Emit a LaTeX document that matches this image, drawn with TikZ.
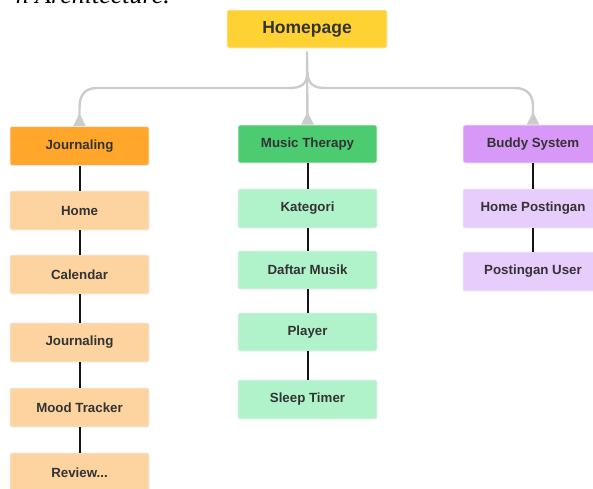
\documentclass[tikz,border=0pt]{standalone}
\usepackage{fontspec}
\setmainfont{Liberation Sans}
\newfontfamily\capfont{Liberation Serif}
\usetikzlibrary{arrows.meta}
\definecolor{txt}{HTML}{333333}
\definecolor{yel}{HTML}{FFD233}
\definecolor{orgD}{HTML}{FFA62B}
\definecolor{orgL}{HTML}{FDD3A0}
\definecolor{grnD}{HTML}{4DCB70}
\definecolor{grnL}{HTML}{B0F2C9}
\definecolor{purD}{HTML}{D898F8}
\definecolor{purL}{HTML}{E7CDFC}
\definecolor{lnk}{HTML}{CCCCCC}
\tikzset{
  box/.style={rectangle, rounded corners=2pt, minimum width=139pt, minimum height=39pt,
    inner sep=0pt, text=txt, font=\fontsize{13.3}{15}\selectfont\bfseries,
    draw=black!7, line width=0.8pt},
  toplink/.style={draw=lnk, line width=2.4pt},
  tip/.style={-{Triangle[reversed,width=12pt,length=13pt,color=lnk]}},
  chain/.style={draw=black!92, line width=2pt}
}
\begin{document}
\begin{tikzpicture}[x=1pt,y=-1pt]
\useasboundingbox (0,0) rectangle (593,488);
\clip (0,0) rectangle (593,488);
\node[anchor=base east, inner sep=0pt, font=\capfont\itshape\fontsize{26}{30}\selectfont] (cap) at (170,3.5) {n Architecture.};

\node[box, fill=yel, minimum width=160pt, minimum height=38pt, font=\fontsize{17.5}{20}\selectfont\bfseries] (home) at (307,29) {Homepage};

\node[box, fill=orgD] (jr) at (79.5,146) {Journaling};
\node[box, fill=orgL] (j1) at (79.5,210.5) {Home};
\node[box, fill=orgL] (j2) at (79.5,274.5) {Calendar};
\node[box, fill=orgL] (j3) at (79.5,342.5) {Journaling};
\node[box, fill=orgL] (j4) at (79.5,407.5) {Mood Tracker};
\node[box, fill=orgL] (j5) at (79.5,472.5) {Review...};

\node[box, fill=grnD, minimum height=38pt] (mt) at (307.5,144) {Music Therapy};
\node[box, fill=grnL] (m1) at (307.5,208.5) {Kategori};
\node[box, fill=grnL, minimum height=38pt] (m2) at (307.5,270) {Daftar Musik};
\node[box, fill=grnL, minimum height=38pt] (m3) at (307.5,332) {Player};
\node[box, fill=grnL] (m4) at (307.5,399.5) {Sleep Timer};

\node[box, fill=purD, minimum width=140pt, minimum height=38pt] (bs) at (533,144) {Buddy System};
\node[box, fill=purL, minimum width=140pt] (b1) at (533,208.5) {Home Postingan};
\node[box, fill=purL, minimum width=140pt] (b2) at (533,271.5) {Postingan User};

\coordinate (br) at (307.5,72);
\draw[toplink, tip] ([yshift=-3pt]home.south) -- (mt.north);
\draw[toplink, tip] (br) .. controls (307.5,84) and (301,88) .. (290,88) -- (97,88)
  .. controls (84,88) and (79.5,96) .. (79.5,108) -- (jr.north);
\draw[toplink, tip] (br) .. controls (307.5,84) and (314,88) .. (325,88) -- (515,88)
  .. controls (528,88) and (533,96) .. (533,106) -- (bs.north);

\draw[chain] (jr) -- (j1);
\draw[chain] (j1) -- (j2);
\draw[chain] (j2) -- (j3);
\draw[chain] (j3) -- (j4);
\draw[chain] (j4) -- (j5);
\draw[chain] (mt) -- (m1);
\draw[chain] (m1) -- (m2);
\draw[chain] (m2) -- (m3);
\draw[chain] (m3) -- (m4);
\draw[chain] (bs) -- (b1);
\draw[chain] (b1) -- (b2);
\end{tikzpicture}
\end{document}
